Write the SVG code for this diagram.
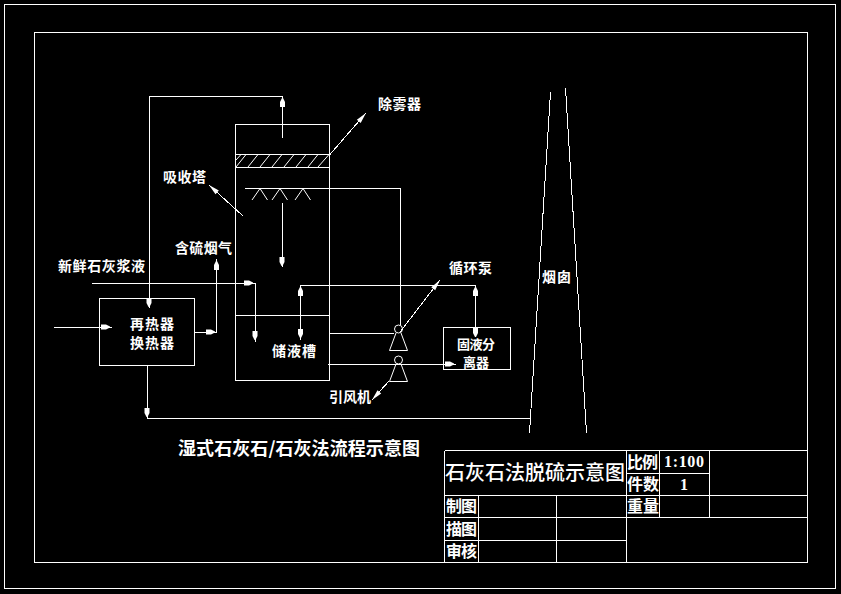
<svg xmlns="http://www.w3.org/2000/svg" width="841" height="594" viewBox="0 0 841 594">
<style>
.l{fill:none;stroke:#fff;stroke-width:1;shape-rendering:crispEdges}
.h{fill:#fff;stroke:none}
text{fill:#fff;font-family:"Noto Sans CJK SC","Noto Sans",sans-serif;font-weight:700;font-size:14px}
.s{font-family:"Liberation Serif","Noto Sans CJK SC",serif;font-weight:700;font-size:16px}
.t{font-weight:500;font-size:18px}
</style>
<defs>
<polygon id="a" class="h" points="0,-2.500 5,-2.500 9,-0.500 9,0.500 5,2.500 0,2.500"/>
<polygon id="b" class="h" points="0,0 -11,-2.500 -11,2.500"/>
</defs>
<rect width="841" height="594" fill="#000"/>
<g id="frame">
<rect class="l" x="4.500" y="4.500" width="831" height="584"/>
<rect class="l" x="34.500" y="32.500" width="773" height="530"/>
</g>
<g id="connectors">
<path class="l" d="M282.500 138V96.500H149.500V308"/>
<path class="l" d="M245 188.500H400.500V325"/>
<path class="l" d="M282.500 203V267"/>
<path class="l" d="M92 283.500H255.500V342"/>
<path class="l" d="M54 327.500H112"/>
<path class="l" d="M195 332.500H216.500V259"/>
<path class="l" d="M147.500 366V418.500H530"/>
<path class="l" d="M300.500 340V285.500H475.500V337"/>
<path class="l" d="M329.500 333.500H394"/>
<path class="l" d="M327.500 364.500H456"/>
<path class="l" d="M243 216L209 185M329.500 155L366 113M400 332L440 280M389 381L372 400"/>
<use href="#a" transform="translate(282.500 107) rotate(-90)"/>
<use href="#a" transform="translate(149 298) rotate(90)"/>
<use href="#a" transform="translate(282 257) rotate(90)"/>
<use href="#a" transform="translate(244 283) rotate(0)"/>
<use href="#a" transform="translate(255 331) rotate(90)"/>
<use href="#a" transform="translate(101 327) rotate(0)"/>
<use href="#a" transform="translate(206 332) rotate(0)"/>
<use href="#a" transform="translate(216.500 270) rotate(-90)"/>
<use href="#a" transform="translate(147 408) rotate(90)"/>
<use href="#a" transform="translate(300.500 296) rotate(-90)"/>
<use href="#a" transform="translate(300.500 329) rotate(90)"/>
<use href="#a" transform="translate(475.500 296) rotate(-90)"/>
<use href="#a" transform="translate(475.500 328) rotate(90)"/>
<use href="#a" transform="translate(445 364) rotate(0)"/>
<use href="#b" transform="translate(209 185) rotate(222)"/>
<use href="#b" transform="translate(366 113) rotate(-49)"/>
<use href="#b" transform="translate(440 280) rotate(-52)"/>
<use href="#b" transform="translate(372 400) rotate(132)"/>
</g>
<g id="tower">
<rect class="l" x="235.500" y="124.500" width="94" height="256"/>
<path class="l" d="M235.500 154.500H329.500M235.500 167.500H329.500M235.500 315.500H329.500"/>
<path fill="none" stroke="#fff" d="M236 160L241 154.500M236 167L246 154.500M248 167L258 154.500M260 167L270 154.500M272 167L282 154.500M284 167L294 154.500M296 167L306 154.500M308 167L318 154.500M318 167L329 154.500"/>
<path fill="none" stroke="#fff" d="M252 200L260 188.500L267.500 200M272 200L280 188.500L287.500 200M295 200L303 188.500L310.500 200"/>
<text x="272" y="356" textLength="44">储液槽</text>
</g>
<g id="demister-label"><text x="378" y="109" textLength="43">除雾器</text></g>
<g id="absorber-label"><text x="163" y="182" textLength="43">吸收塔</text></g>
<g id="flue-gas-label"><text x="175" y="253" textLength="57">含硫烟气</text></g>
<g id="slurry-label"><text x="58" y="271" textLength="87">新鲜石灰浆液</text></g>
<g id="heat-exchanger">
<rect class="l" x="99.500" y="298.500" width="95" height="67"/>
<text x="130" y="329" textLength="44">再热器</text>
<text x="130" y="348" textLength="44">换热器</text>
</g>
<g id="pump">
<circle class="l" style="shape-rendering:auto" cx="398.500" cy="329" r="4"/>
<path fill="none" stroke="#fff" d="M396 333L389.500 350.500H407.500L401 333"/>
<text x="449" y="273" textLength="43">循环泵</text>
</g>
<g id="fan">
<circle class="l" style="shape-rendering:auto" cx="398.500" cy="360" r="4"/>
<path fill="none" stroke="#fff" d="M396 364L389.500 381.500H407.500L401 364"/>
<text x="329" y="402" textLength="42">引风机</text>
</g>
<g id="separator">
<rect class="l" x="443.500" y="327.500" width="67" height="42"/>
<text x="457" y="349" style="font-size:13px" textLength="38">固液分</text>
<text x="463" y="367" style="font-size:13px" textLength="26">离器</text>
</g>
<g id="chimney">
<path class="l" d="M550.500 92L529.500 433M565.500 88L586.500 433"/>
<text x="542" y="282" textLength="29">烟囱</text>
</g>
<text class="t" x="178" y="455" style="font-weight:700" textLength="242">湿式石灰石/石灰法流程示意图</text>
<g id="title-block">
<path class="l" d="M444.500 450.500H807.500M626.500 473.500H709.500M444.500 495.500H807.500M444.500 517.500H807.500M444.500 540.500H626.500M444.500 450.500V562.500M626.500 450.500V562.500M659.500 450.500V517.500M709.500 450.500V517.500M478.500 495.500V562.500M556.500 495.500V562.500"/>
<text class="t" style="font-size:20px" x="445" y="480" textLength="180">石灰石法脱硫示意图</text>
<text x="627" y="468" style="font-size:16px" textLength="31">比例</text>
<text class="s" x="664" y="467" textLength="40">1:100</text>
<text x="627" y="490" style="font-size:16px" textLength="32">件数</text>
<text class="s" x="680" y="490">1</text>
<text x="627" y="512" style="font-size:16px" textLength="32">重量</text>
<text x="446" y="512" style="font-size:16px" textLength="31">制图</text>
<text x="446" y="535" style="font-size:16px" textLength="31">描图</text>
<text x="446" y="557" style="font-size:16px" textLength="31">审核</text>
</g>
</svg>
